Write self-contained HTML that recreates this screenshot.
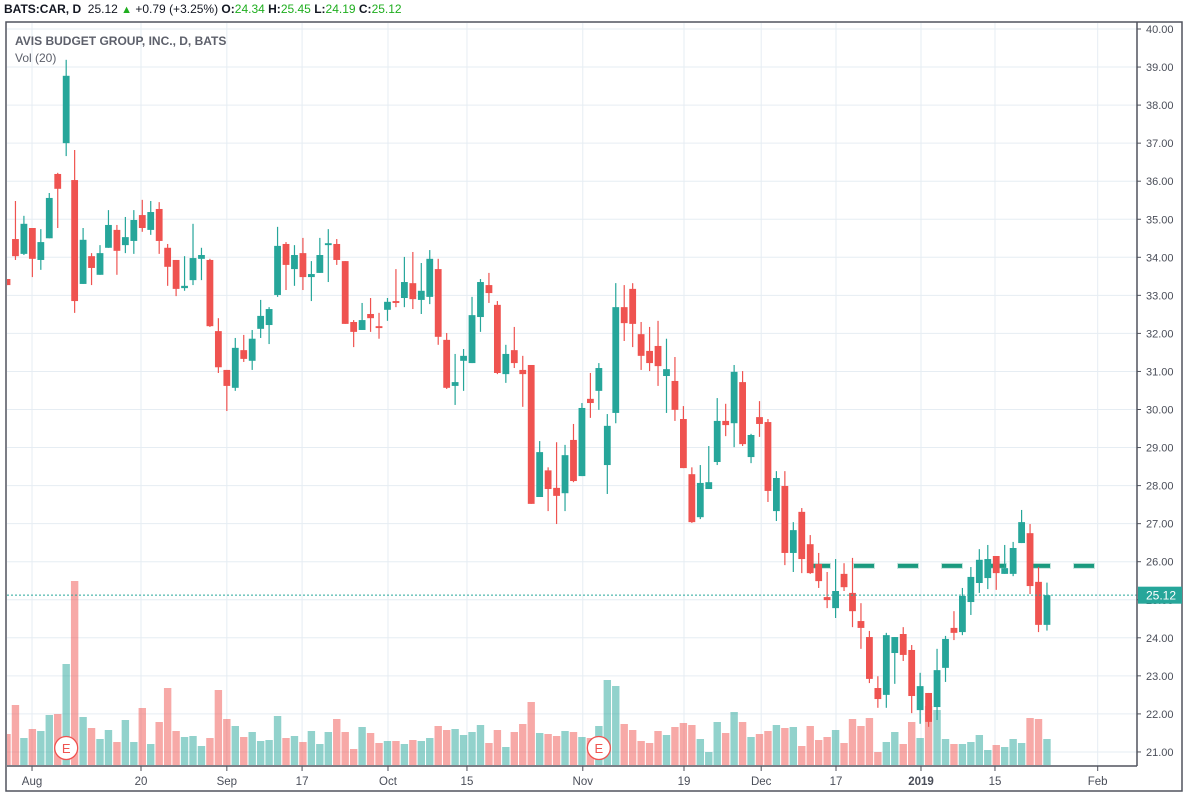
<!DOCTYPE html>
<html><head><meta charset="utf-8">
<style>
html,body{margin:0;padding:0;background:#fff;width:1188px;height:798px;overflow:hidden;font-family:"Liberation Sans",sans-serif;}
#hdr{position:absolute;left:4px;top:2px;font-size:12px;color:#131722;white-space:nowrap;}
#hdr b{font-weight:bold}
#hdr .g{color:#1fae1f}
</style></head><body>
<div id="hdr"><b>BATS:CAR, D</b>&nbsp; 25.12 <span class="g" style="font-size:11px">▲</span> +0.79 (+3.25%) <b>O:</b><span class="g">24.34</span> <b>H:</b><span class="g">25.45</span> <b>L:</b><span class="g">24.19</span> <b>C:</b><span class="g">25.12</span></div>
<svg id="chart" width="1188" height="798" style="position:absolute;left:0;top:0" xmlns="http://www.w3.org/2000/svg">
<defs><clipPath id="plotclip"><rect x="7" y="23" width="1130" height="743"/></clipPath></defs>
<g id="grid"></g>
<g id="dashline" clip-path="url(#plotclip)"></g>
<g id="vols" clip-path="url(#plotclip)"></g>
<g id="candles" clip-path="url(#plotclip)"></g>
<g id="axes"></g>
<text x="15" y="45" font-size="12" font-weight="bold" fill="#5d606b">AVIS BUDGET GROUP, INC., D, BATS</text>
<text x="15" y="62" font-size="12" fill="#5d606b">Vol (20)</text>
</svg>
<script>
const opens=[33.43,34.48,34.09,34.77,33.93,34.50,36.19,37.00,36.03,33.30,34.03,33.54,34.25,34.72,34.32,34.43,35.11,34.72,35.27,34.25,33.93,33.19,33.40,33.96,33.93,32.06,31.04,30.57,31.56,31.28,32.12,32.22,33.01,34.35,33.69,34.11,33.48,33.59,34.32,34.35,33.90,32.30,32.09,32.51,32.19,32.62,32.85,32.93,33.32,32.88,32.96,33.69,31.83,30.62,31.28,31.22,32.43,33.27,32.75,30.93,31.56,31.04,31.17,27.70,28.40,27.94,27.80,29.20,28.25,30.28,30.49,28.54,29.91,32.69,33.17,31.98,31.54,31.67,30.88,30.75,29.75,28.30,27.17,27.91,28.62,29.70,29.64,30.72,28.75,29.80,29.67,27.33,27.99,26.23,27.31,26.46,25.94,25.07,24.78,25.68,25.18,24.44,24.02,22.68,22.50,23.60,24.10,23.68,22.10,22.55,22.18,23.21,24.26,24.15,24.94,25.44,25.57,26.15,25.68,25.68,26.49,26.75,25.47,24.34];
const highs=[33.43,35.48,35.09,34.77,34.74,35.69,36.22,39.19,36.82,34.77,34.11,34.32,35.24,34.85,35.06,35.24,35.51,35.48,35.45,34.35,33.93,34.03,34.88,34.25,33.96,32.40,31.04,31.88,31.96,32.09,32.88,32.69,34.80,34.40,34.32,34.51,33.90,34.51,34.74,34.48,33.90,32.35,32.80,32.93,32.54,32.93,33.69,34.01,34.14,33.85,34.19,33.96,32.01,31.46,31.59,32.96,33.43,33.59,32.85,31.70,32.17,31.41,31.17,29.17,28.48,29.14,29.07,29.62,30.17,30.96,31.22,29.88,33.32,33.27,33.32,32.30,32.17,32.33,31.86,31.38,30.09,28.48,28.54,29.04,30.30,30.15,31.17,31.01,29.36,30.22,29.75,28.38,28.38,27.04,27.41,26.70,26.23,25.73,26.07,25.96,26.10,24.91,24.18,22.99,24.13,24.02,24.28,23.81,23.08,22.55,23.71,24.05,24.70,25.31,25.86,26.33,26.44,26.15,26.44,26.52,27.36,26.99,25.86,25.45];
const lows=[33.27,33.93,34.06,33.48,33.67,34.50,34.77,36.66,32.54,33.30,33.27,33.54,34.25,33.54,34.11,34.09,34.67,34.59,34.09,33.25,32.98,33.12,33.27,33.40,32.17,30.96,29.96,30.49,31.25,31.04,31.88,31.72,32.96,33.14,33.25,33.14,32.85,33.59,33.35,33.80,32.25,31.64,32.09,32.04,31.86,32.33,32.69,32.69,32.64,32.51,32.77,31.70,30.54,30.12,30.49,31.22,32.04,32.80,30.93,30.70,31.09,30.07,27.52,27.70,27.33,26.99,27.33,28.09,28.25,29.78,29.99,27.78,29.64,31.80,31.64,31.04,31.01,30.62,29.91,29.70,28.46,27.02,27.12,27.91,28.54,29.30,29.01,29.04,28.59,29.28,27.57,27.07,25.91,25.73,25.70,25.68,25.31,24.78,24.52,25.23,24.28,23.71,22.81,22.16,22.16,22.79,23.39,22.02,21.74,21.66,21.84,22.84,23.94,24.07,24.60,25.18,25.28,25.26,25.68,25.62,26.49,25.15,24.15,24.19];
const closes=[33.27,34.03,34.88,33.96,34.40,35.56,35.80,38.77,32.85,34.46,33.72,34.11,34.85,34.17,34.53,34.98,34.77,35.19,34.43,33.75,33.17,33.25,33.98,34.06,32.19,31.11,30.62,31.62,31.33,31.86,32.46,32.64,34.30,33.80,34.06,33.48,33.56,34.06,34.37,33.93,32.25,32.04,32.35,32.40,32.14,32.83,32.80,33.35,32.90,33.12,33.96,31.91,30.57,30.72,31.41,32.48,33.35,33.06,30.96,31.46,31.22,30.93,27.52,28.88,27.91,27.73,28.80,28.12,30.04,30.17,31.09,29.57,32.69,32.27,32.25,31.41,31.22,31.14,31.06,29.99,28.46,27.04,28.07,28.09,29.70,29.59,30.99,29.09,29.33,29.62,27.86,28.20,26.23,26.83,26.07,25.70,25.49,24.99,25.23,25.33,24.70,24.26,22.92,22.39,24.07,24.02,23.55,22.47,22.73,21.79,23.15,23.97,24.13,25.10,25.60,26.05,26.07,25.70,25.83,26.36,27.04,25.36,24.34,25.12];
const volumes=[620,1200,540,720,680,1000,1020,2020,3680,960,740,520,700,460,900,460,1140,420,860,1540,680,560,580,380,540,1500,920,780,560,660,480,500,980,540,580,460,680,420,660,920,660,320,760,640,440,480,480,420,500,480,540,780,700,720,600,660,800,440,700,360,660,820,1260,640,620,580,680,660,560,540,780,1700,1580,820,700,480,440,680,600,760,840,800,520,260,860,640,1060,860,560,620,680,800,740,760,380,780,500,560,700,440,920,780,940,260,460,660,420,860,540,1180,1100,520,420,420,460,600,300,400,360,520,440,940,920,520];
const timeLabels=["Aug","20","Sep","17","Oct","15","Nov","19","Dec","17","2019","15","Feb"];
const timeLabelIdx=[2.96,15.85,26.0,34.9,45.06,54.4,68.1,80.07,89.2,98.05,108.1,116.85,129.0];
const priceTicks=[40,39,38,37,36,35,34,33,32,31,30,29,28,27,26,25,24,23,22,21];
const lastPrice=25.12;
const resistance=25.89;
const earnings=[7,70];

const NS="http://www.w3.org/2000/svg";
const UP="#26a69a",DN="#ef5350";
const xOf=i=>7+8.455*i;
const yOf=p=>29+(40-p)*38.05;
const vY=v=>765-v/20;
function mk(tag,attrs,parent){const e=document.createElementNS(NS,tag);for(const k in attrs)e.setAttribute(k,attrs[k]);parent.appendChild(e);return e;}
const grid=document.getElementById('grid'),axes=document.getElementById('axes');
const cg=document.getElementById('candles'),vg=document.getElementById('vols'),dg=document.getElementById('dashline');
priceTicks.forEach(p=>{const y=yOf(p);
 const l=mk('line',{x1:7,x2:1137,y1:y,y2:y,stroke:'#e6edf3','stroke-width':1},grid);
 
 
 const t=mk('text',{x:1146,y:y+4,'font-size':11,fill:'#4a4e59'},axes);t.textContent=p.toFixed(2);
 
 
 mk('line',{x1:1137,x2:1141,y1:y,y2:y,stroke:'#50535e'},axes);
});
timeLabels.forEach((lb,k)=>{const x=xOf(timeLabelIdx[k]);
 const l=mk('line',{x1:x,x2:x,y1:23,y2:766,stroke:'#e6edf3','stroke-width':1},grid);
 
 
 mk('line',{x1:x,x2:x,y1:766,y2:771,stroke:'#50535e'},axes);
 const t=mk('text',{x:x,y:785,'font-size':11.5,fill:'#4a4e59','text-anchor':'middle','font-weight':lb==='2019'?'bold':'normal'},axes);t.textContent=lb;
 
 
});
for(let x=810;x<1100;x+=44){const r=mk('rect',{x:x,y:yOf(resistance)-2,width:20,height:4,fill:'#1a9a7f',stroke:'rgba(26,154,127,0.25)','stroke-width':2},dg);
 
 }
volumes.forEach((v,i)=>{const up=closes[i]>=opens[i];const x=xOf(i);
 const r=mk('rect',{x:x-3.7,y:vY(v),width:7.4,height:765-vY(v),fill:up?'rgba(38,166,154,0.5)':'rgba(239,83,80,0.5)'},vg);
 
 });
opens.forEach((o,i)=>{const c=closes[i],up=c>=o,col=up?UP:DN,x=xOf(i);
 const w=mk('line',{x1:x,x2:x,y1:yOf(highs[i]),y2:yOf(lows[i]),stroke:col,'stroke-width':1.2},cg);
 
 
 const t=yOf(Math.max(o,c)),b=yOf(Math.min(o,c));
 const r=mk('rect',{x:x-3.4,y:t,width:6.8,height:Math.max(1.5,b-t),fill:col},cg);
 
 });
const ly=yOf(lastPrice);
const lp=mk('line',{x1:7,x2:1137,y1:ly,y2:ly,stroke:'#26a69a','stroke-width':1,'stroke-dasharray':'2,2'},axes);


mk('line',{x1:7,x2:1137,y1:766,y2:766,stroke:'#50535e','stroke-width':1.5},axes);
mk('line',{x1:1137,x2:1137,y1:22,y2:766,stroke:'#50535e','stroke-width':1.5},axes);
const fr=mk('rect',{x:6,y:22,width:1176,height:769,fill:'none',stroke:'#50535e','stroke-width':1.5},axes);


const lb=mk('rect',{x:1138,y:ly-8.5,width:44,height:17,fill:'#26a69a'},axes);


const lt=mk('text',{x:1146,y:ly+4.5,'font-size':12,fill:'#fff'},axes);lt.textContent=lastPrice.toFixed(2);


earnings.forEach(i=>{const x=xOf(i);const g=mk('g',{},axes);
 
 
 mk('circle',{cx:x,cy:748,r:11.5,fill:'#fff',stroke:'#ef5350','stroke-width':1.3},g);
 const t=mk('text',{x:x,y:753,'font-size':13,fill:'#ef5350','text-anchor':'middle'},g);t.textContent='E';});
</script>
</body></html>
